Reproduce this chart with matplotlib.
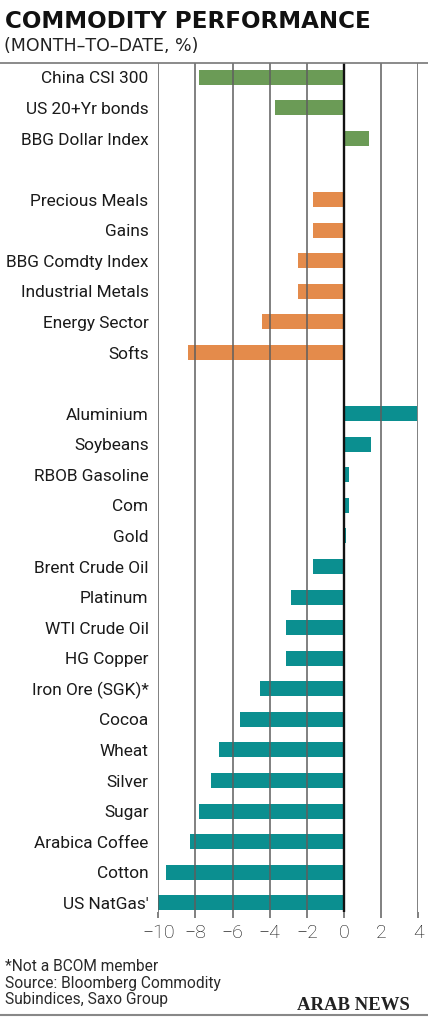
import matplotlib.pyplot as plt
from matplotlib.lines import Line2D

# month-to-date performance, %
market_names = ['China CSI 300', 'US 20+Yr bonds', 'BBG Dollar Index']
market_vals = [-7.8, -3.7, 1.35]

sector_names = ['Precious Meals', 'Gains', 'BBG Comdty Index', 'Industrial Metals',
                'Energy Sector', 'Softs']
sector_vals = [-1.65, -1.65, -2.5, -2.5, -4.4, -8.4]

commod_names = ['Aluminium', 'Soybeans', 'RBOB Gasoline', 'Com', 'Gold',
                'Brent Crude Oil', 'Platinum', 'WTI Crude Oil', 'HG Copper',
                'Iron Ore (SGK)*', 'Cocoa', 'Wheat', 'Silver', 'Sugar',
                'Arabica Coffee', 'Cotton', "US NatGas'"]
commod_vals = [3.95, 1.45, 0.25, 0.25, 0.08, -1.65, -2.85, -3.1, -3.1, -4.5,
               -5.6, -6.75, -7.15, -7.8, -8.3, -9.6, -10.0]

x_ticks = [-10, -8, -6, -4, -2, 0, 2, 4]
x_tick_labels = ['\u221210', '\u22128', '\u22126', '\u22124', '\u22122', '0', '2', '4']

groups = [(market_names, market_vals, '#6b9b56'),
          (sector_names, sector_vals, '#e48b4b'),
          (commod_names, commod_vals, '#0b8f90')]

fig = plt.figure(figsize=(4.28, 10.24), dpi=100)
ax = fig.add_axes([158.3 / 428, 1 - 912 / 1024, 260 / 428, (912 - 63.3) / 1024])

pos = 0
ypos, ylabels = [], []
for names, vals, col in groups:
    ys = list(range(pos, pos + len(names)))
    ax.barh(ys, vals, height=0.49, color=col, zorder=1)
    ypos += ys
    ylabels += names
    pos += len(names) + 1

for t in x_ticks:
    if t == 0:
        ax.axvline(t, color='#111111', lw=1.7, zorder=3)
    else:
        ax.axvline(t, color='#5e5e5e', lw=1.1, zorder=2)

ax.set_xlim(-10, 4)
ax.set_ylim(27.3, -0.46)
for s in ax.spines.values():
    s.set_visible(False)

ax.set_yticks(ypos)
ax.set_yticklabels(ylabels, fontsize=12.4, family='Roboto', color='#1a1a1a')
ax.tick_params(axis='y', length=0, pad=7)
ax.set_xticks(x_ticks)
ax.set_xticklabels(x_tick_labels, fontsize=14, family='Roboto', fontweight='light',
                   color='#111111')
ax.tick_params(axis='x', length=4, width=1.1, color='#5e5e5e', pad=5)

# header
fig.text(5 / 428, 1 - 28.5 / 1024, 'COMMODITY PERFORMANCE', fontsize=16.6,
         fontweight='bold', family='DejaVu Sans', color='#111111', va='baseline')
fig.text(4 / 428, 1 - 51 / 1024, '(MONTH\u2013TO\u2013DATE, %)', fontsize=12.5,
         family='DejaVu Sans', color='#222222', va='baseline')
fig.add_artist(Line2D([0, 1], [1 - 63.3 / 1024] * 2, color='#777777', lw=1.2))

# footer
foot = ['*Not a BCOM member', 'Source: Bloomberg Commodity', 'Subindices, Saxo Group']
for i, line in enumerate(foot):
    fig.text(5 / 428, 1 - (971 + i * 16.7) / 1024, line, fontsize=11.2, family='Roboto',
             color='#2a2a2a', va='baseline')
fig.text(410 / 428, 1 - 1010 / 1024, 'ARAB NEWS', fontsize=13.5, family='Liberation Serif',
         fontweight='bold', color='#222222', ha='right', va='baseline')
fig.add_artist(Line2D([0, 1], [1 - 1014.5 / 1024] * 2, color='#888888', lw=1.5))

fig.savefig('out.png', dpi=100)
